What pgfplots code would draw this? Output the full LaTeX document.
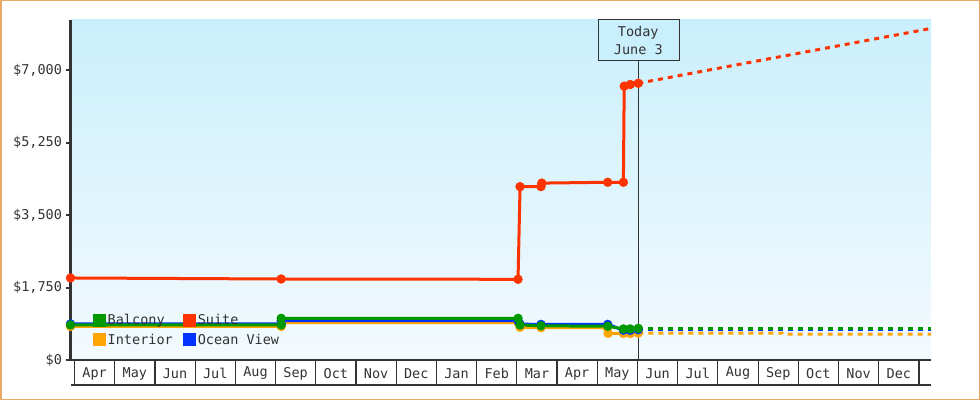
\documentclass[border=0pt]{standalone}
\usepackage{pgfplots}
\pgfplotsset{compat=1.18}
\usepackage{fontspec}
\setmainfont{DejaVu Sans Mono}
\definecolor{cred}{RGB}{255,51,0}
\definecolor{cgreen}{RGB}{0,153,0}
\definecolor{corange}{RGB}{255,165,0}
\definecolor{cblue}{RGB}{0,51,255}
\definecolor{cframe}{RGB}{235,170,100}
\definecolor{bgtop}{RGB}{202,239,252}
\definecolor{bgbot}{RGB}{243,250,254}
\definecolor{txt}{RGB}{51,51,51}
\newcommand{\cf}{\fontsize{13.5bp}{18bp}\selectfont}
\begin{document}
\begin{tikzpicture}
\path[use as bounding box] (0,0) rectangle (980bp,400bp);
\draw[cframe, line width=1.5bp] (0.75bp,0.75bp) rectangle (979.25bp,399.25bp);
\begin{axis}[
  at={(70.5bp,40bp)}, anchor=south west, scale only axis,
  width=860.5bp, height=340bp,
  xmin=-0.1, xmax=21.3, ymin=0, ymax=8207,
  clip=false,
  axis x line=bottom, axis y line=left,
  axis line style={-, txt},
  x axis line style={line width=1.5bp},
  y axis line style={line width=2bp},
  axis background/.style={top color=bgtop, bottom color=bgbot},
  /pgf/number format/assume math mode=true,
  ytick={0,1750,3500,5250,7000},
  yticklabels={\$0,{\$1,750},{\$3,500},{\$5,250},{\$7,000}},
  xtick={0.5,1.5,...,20.5},
  xticklabels={Apr,May,Jun,Jul,Aug,Sep,Oct,Nov,Dec,Jan,Feb,Mar,Apr,May,Jun,Jul,Aug,Sep,Oct,Nov,Dec},
  tick align=outside, major tick length=5bp,
  ytick style={line width=2bp, txt},
  xtick style={draw=none},
  ticklabel style={font=\cf, text=txt},
  xticklabel style={anchor=center, yshift=-8.5bp},
  legend style={at={(0.0262,0.14)}, anchor=north west, draw=none, fill=none,
    font=\cf, text=txt, row sep=5bp, inner sep=0bp,
    nodes={inner sep=1.5bp},
    /tikz/every odd column/.append style={column sep=0bp},
    /tikz/every even column/.append style={column sep=9bp}},
  legend columns=2, legend cell align=left,
  legend image code/.code={\fill[#1] (0bp,-5bp) rectangle (10bp,5bp);},
  every axis plot/.append style={line width=3bp, mark size=4.4bp, mark options={solid, line width=0.5bp}},
]
% month boxes
\pgfplotsinvokeforeach{0,...,21}{
  \draw[txt, line width=1.2bp] (axis cs:#1,0) -- ([yshift=-25bp]axis cs:#1,0);
}
\draw[txt, line width=1.5bp] ([yshift=-25bp]axis cs:-0.1,0) -- ([yshift=-25bp]axis cs:21.3,0);
% today marker
\draw[txt, line width=1bp] (axis cs:14.02,7225) -- (axis cs:14.02,0);
\draw[txt, fill=bgtop, line width=1bp] (axis cs:13.02,8207) rectangle (axis cs:15.04,7225);
\node[txt, align=center, font=\cf] at (axis cs:14.02,7716) {Today\\June 3};

% Interior
\addplot[corange, mark=*, forget plot] coordinates {
 (-0.1,810) (5.14,810) (5.14,900) (11.03,900) (11.08,790) (11.60,780)
 (13.25,780) (13.27,645) (13.65,640) (13.82,640) (14.02,650)};
\addplot[corange, dash pattern=on 5bp off 5bp, forget plot] coordinates {
 (14.02,650) (17.60,650) (17.62,622) (21.3,622)};
% Ocean View
\addplot[cblue, mark=*, forget plot] coordinates {
 (-0.1,870) (5.14,870) (5.14,950) (11.03,950) (11.08,865) (11.60,860)
 (13.26,860) (13.65,720) (13.82,715) (14.02,730)};
\addplot[cblue, dash pattern=on 5bp off 5bp, forget plot] coordinates {
 (14.02,730) (21.3,730)};
% Balcony
\addplot[cgreen, mark=*, forget plot] coordinates {
 (-0.1,845) (5.14,845) (5.14,1006) (11.03,1006) (11.08,845) (11.60,825)
 (13.26,815) (13.65,750) (13.82,750) (14.02,765)};
\addplot[cgreen, dash pattern=on 5bp off 5bp, forget plot] coordinates {
 (14.02,765) (21.3,765)};
% Suite
\addplot[cred, mark=*, forget plot] coordinates {
 (-0.1,1980) (5.14,1955) (11.03,1948) (11.08,4185) (11.60,4185) (11.62,4270)
 (13.26,4290) (13.65,4290) (13.67,6610) (13.82,6650) (14.02,6680)};
\addplot[cred, dash pattern=on 5bp off 5bp, forget plot] coordinates {
 (14.02,6680) (15,6858) (16,7040) (17,7222) (18,7403) (19,7585) (20,7767) (21,7949) (21.3,8004)};

\addlegendimage{cgreen}\addlegendentry{Balcony}
\addlegendimage{cred}\addlegendentry{Suite}
\addlegendimage{corange}\addlegendentry{Interior}
\addlegendimage{cblue}\addlegendentry{Ocean View}
\end{axis}
\end{tikzpicture}
\end{document}
